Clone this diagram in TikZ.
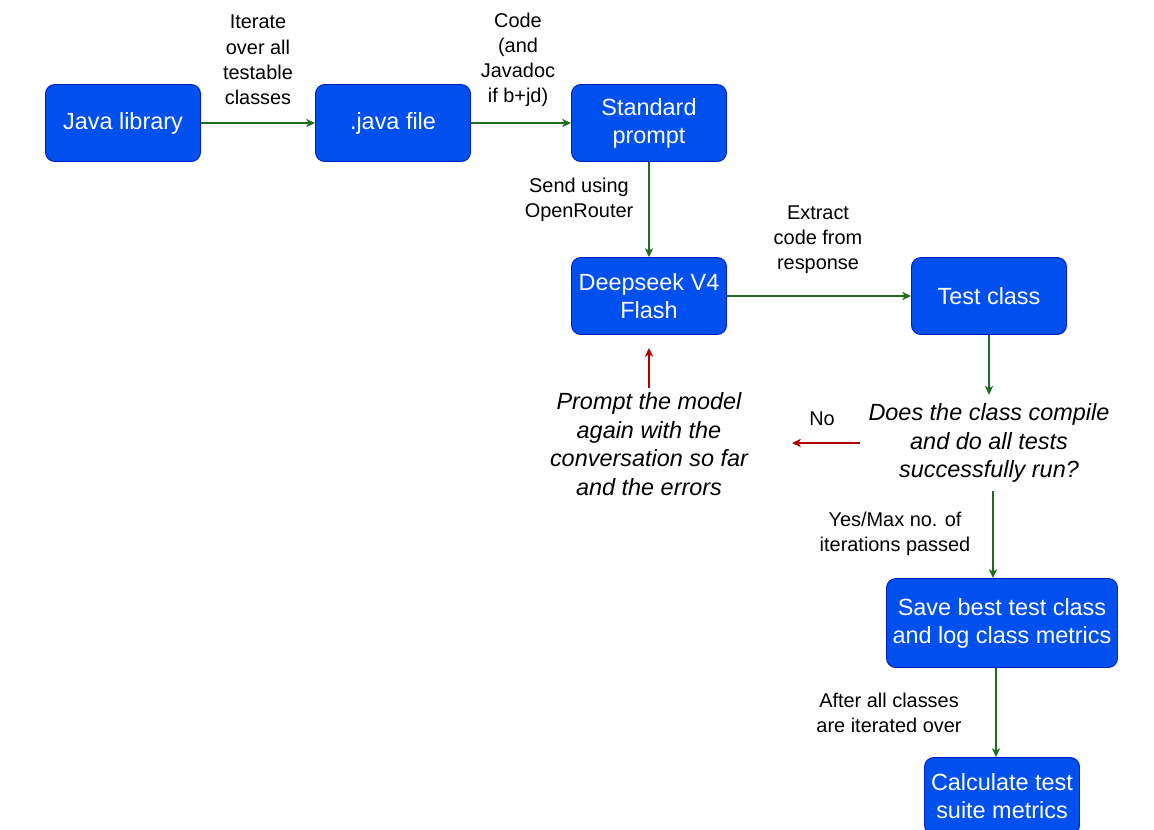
\documentclass[tikz,border=0pt]{standalone}
\usepackage{fontspec}
\setmainfont{Liberation Sans}
\usetikzlibrary{arrows.meta}
\definecolor{boxblue}{HTML}{0050EF}
\definecolor{boxline}{HTML}{001DBC}
\definecolor{flowgreen}{HTML}{1F6B1F}
\definecolor{backred}{HTML}{B20000}

\begin{document}
\begin{tikzpicture}[x=0.03cm,y=-0.03cm,>={Stealth[length=7.5pt,width=7pt,inset=2pt]},
  box/.style={draw=boxline,fill=boxblue,text=white,rounded corners=8pt,line width=0.8pt,
    align=center,minimum width=4.65cm,minimum height=2.31cm,font=\fontsize{20}{24}\selectfont},
  lbl/.style={align=center,font=\fontsize{17}{21.5}\selectfont},
  frage/.style={align=center,font=\fontsize{20}{24.5}\selectfont\itshape},
  flow/.style={->,draw=flowgreen,line width=1.1pt},
  back/.style={->,draw=backred,line width=1.1pt}]
  \useasboundingbox (0,0) rectangle (1154,829);
  % Kaesten
  \node[box] (lib)    at (123,123) {Java library};
  \node[box] (jfile)  at (393,123) {.java file};
  \node[box] (prompt) at (649,123) {Standard\\prompt};
  \node[box] (model)  at (649,296) {Deepseek V4\\Flash};
  \node[box] (test)   at (989,296) {Test class};
  \node[box,minimum width=6.93cm,minimum height=2.67cm] (save) at (1002,623) {Save best test class\\and log class metrics};
  \node[box] (calc)   at (1002,796) {Calculate test\\suite metrics};
  % Fragen
  \node[frage,outer sep=4pt] (check) at (989,443) {Does the class compile\\and do all tests\\successfully run?};
  \node[frage] (retry) at (649,444) {Prompt the model\\again with the\\conversation so far\\and the errors};
  \coordinate (noend) at (792,444);
  % Beschriftungen
  \node[lbl] (lIter) at (258,60) {Iterate\\over all\\testable\\classes};
  \node[lbl] (lCode) at (518,60) {Code\\(and\\Javadoc\\if b+jd)};
  \node[lbl] (lSend) at (579,200) {Send using\\OpenRouter};
  \node[lbl] (lExtr) at (818,240) {Extract\\code from\\response};
  \node[lbl] (lNo)   at (822,419) {No};
  \node[lbl] (lYes)  at (895,534) {Yes/Max no. of\\iterations passed};
  \node[lbl] (lAll)  at (889,713) {After all classes\\are iterated over};
  % Pfeile
  \draw[flow] (lib) -- (jfile);
  \draw[flow] (jfile) -- (prompt);
  \draw[flow] (prompt) -- (model);
  \draw[flow] (model) -- (test);
  \draw[flow] (test) -- (test |- check.north);
  \draw[flow] (check.south -| 993,0) -- (save.north -| 993,0);
  \draw[flow] (save.south -| 996,0) -- (calc.north -| 996,0);
  \draw[back] (check.west) -- (noend |- check.west);
  \draw[back,shorten >=0.39cm] (retry.north) -- (retry.north |- model.south);
\end{tikzpicture}
\end{document}
